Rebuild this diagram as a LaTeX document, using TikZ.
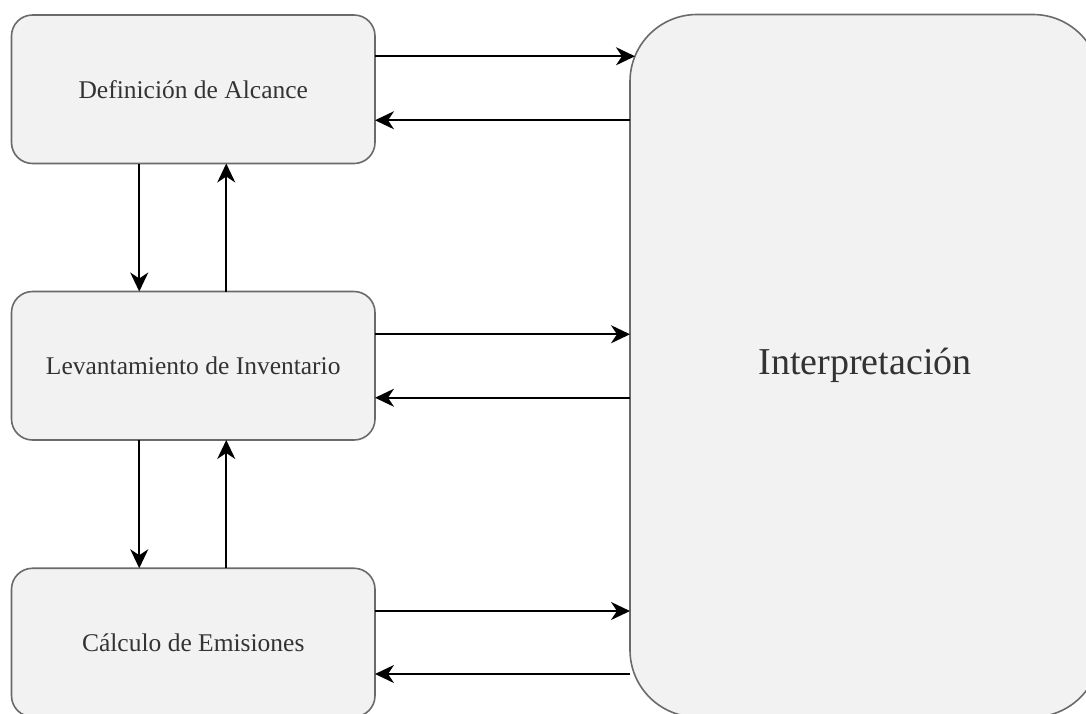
\documentclass[tikz,border=0pt]{standalone}
\usepackage{fontspec}
\setmainfont{Liberation Serif}
\usetikzlibrary{arrows.meta}
\definecolor{boxfill}{HTML}{F2F2F2}
\definecolor{boxline}{HTML}{6A6A6A}
\definecolor{boxtext}{HTML}{333333}
\tikzset{
  stage/.style={draw=boxline, fill=boxfill, line width=1.6pt, rounded corners=21pt,
    minimum width=363.5pt, minimum height=148.5pt, inner sep=0pt, outer sep=0pt,
    text=boxtext, font=\fontsize{25.5}{30}\selectfont},
  bigbox/.style={draw=boxline, fill=boxfill, line width=1.6pt, rounded corners=67pt,
    minimum width=470pt, minimum height=702.5pt, inner sep=0pt, outer sep=0pt,
    text=boxtext, font=\fontsize{38}{44}\selectfont},
  flow/.style={line width=2.1pt, -{Stealth[length=19pt,width=18pt,inset=6pt]}},
}
\begin{document}
\begin{tikzpicture}[x=1pt,y=-1pt]
  \useasboundingbox (0,0) rectangle (1086,713);
  \clip (0,0) rectangle (1086,713);
  % stages on the left
  \node[stage] (b1) at (193.25,89.25)  {Definición de Alcance};
  \node[stage] (b2) at (193.25,365.75) {Levantamiento de Inventario};
  \node[stage] (b3) at (193.25,642.5)  {Cálculo de Emisiones};
  % interpretation block on the right
  \node[bigbox] (big) at (865,365.75) {Interpretación};
  % links between the stages and interpretation (canvas yshift points up)
  \draw[flow, shorten >=-5pt] ([yshift=33pt]b1.east) -- ([yshift=33pt]b1.east -| big.west);
  \draw[flow] ([yshift=-31pt]b1.east -| big.west) -- ([yshift=-31pt]b1.east);
  \draw[flow] ([yshift=31.5pt]b2.east) -- ([yshift=31.5pt]b2.east -| big.west);
  \draw[flow] ([yshift=-32pt]b2.east -| big.west) -- ([yshift=-32pt]b2.east);
  \draw[flow] ([yshift=31.5pt]b3.east) -- ([yshift=31.5pt]b3.east -| big.west);
  \draw[flow] ([yshift=-31.5pt]b3.east -| big.west) -- ([yshift=-31.5pt]b3.east);
  % links between consecutive stages
  \draw[flow] ([xshift=-54pt]b1.south) -- ([xshift=-54pt]b1.south |- b2.north);
  \draw[flow] ([xshift=33pt]b2.north) -- ([xshift=33pt]b2.north |- b1.south);
  \draw[flow] ([xshift=-54pt]b2.south) -- ([xshift=-54pt]b2.south |- b3.north);
  \draw[flow] ([xshift=33pt]b3.north) -- ([xshift=33pt]b3.north |- b2.south);
\end{tikzpicture}
\end{document}
